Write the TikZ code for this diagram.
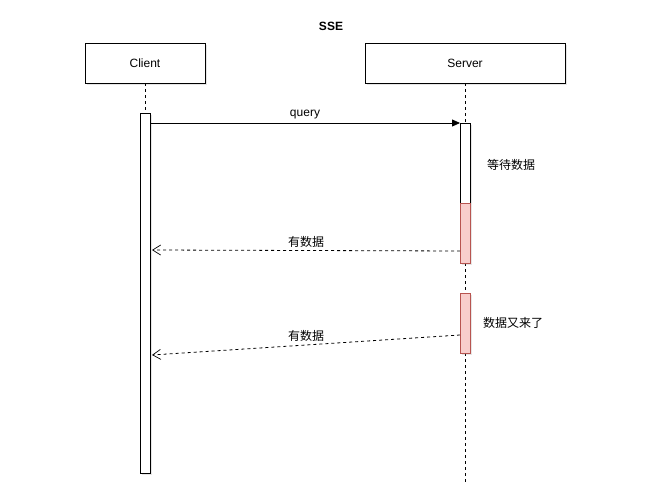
\documentclass[tikz,border=0pt]{standalone}
\usepackage{fontspec}
\setmainfont{Liberation Sans}
\newfontfamily\cjk{Noto Sans CJK SC}
\usetikzlibrary{arrows.meta,shadows}
\definecolor{pinkfill}{HTML}{F8CECC}
\definecolor{pinkline}{HTML}{B85450}
\tikzset{
  actorbox/.style={draw=black, fill=white, line width=0.8pt, minimum height=40pt, inner sep=0pt, drop shadow={shadow xshift=2pt, shadow yshift=-2pt, opacity=0.2}, font=\fontsize{12}{14}\selectfont},
  actbar/.style={draw=black, fill=white, line width=0.8pt, drop shadow={shadow xshift=2pt, shadow yshift=-2pt, opacity=0.2}},
  pinkbar/.style={draw=pinkline, fill=pinkfill, line width=0.8pt, drop shadow={shadow xshift=2pt, shadow yshift=-2pt, opacity=0.2}},
  lifeline/.style={dashed, dash pattern=on 3pt off 3pt, line width=0.8pt},
  msg/.style={line width=0.8pt, -{Triangle[length=8pt,width=7pt]}},
  reply/.style={line width=0.8pt, dash pattern=on 3pt off 3pt, -{Straight Barb[length=8pt,width=10pt,line width=0.7pt]}},
  lbl/.style={font=\cjk\fontsize{12}{14}\selectfont, inner sep=1pt, fill=white},
}
\begin{document}
\begin{tikzpicture}[x=1pt,y=-1pt]
\useasboundingbox (0,0) rectangle (662,500);
\node[font=\bfseries\fontsize{12}{14}\selectfont] (title) at (331,26) {SSE};
\node[actorbox, minimum width=120pt] (client) at (145,63) {Client};
\node[actorbox, minimum width=200pt] (server) at (465,63) {Server};
\coordinate (cend) at (145,113);
\coordinate (send) at (465,483);
\draw[lifeline] (client.south) -- (cend);
\draw[lifeline] (server.south) -- (send);
% activation bars
\node[actbar, minimum width=10pt, minimum height=360pt, inner sep=0pt] (cbar) at (145,293) {};
\node[actbar, minimum width=10pt, minimum height=80pt, inner sep=0pt] (sbar) at (465,163) {};
\node[pinkbar, minimum width=10pt, minimum height=60pt, inner sep=0pt] (p1) at (465,233) {};
\node[pinkbar, minimum width=10pt, minimum height=60pt, inner sep=0pt] (p2) at (465,323) {};
% coordinates for messages
\coordinate (q1) at (150,123);
\coordinate (q2) at (460,123);
\coordinate (r1s) at (460,251);
\coordinate (r1e) at (152,250);
\coordinate (r2s) at (460,335);
\coordinate (r2e) at (152,355);
\draw[msg] (q1) -- (q2);
\node[lbl, font=\fontsize{12}{14}\selectfont] (qlbl) at (305,115) {query};
\draw[reply] (r1s) -- (r1e);
\node[lbl] (l1) at (306,242) {有数据};
\draw[reply] (r2s) -- (r2e);
\node[lbl] (l2) at (306,336) {有数据};
\node[lbl, fill=none] (w) at (511,165) {等待数据};
\node[lbl, fill=none] (w2) at (513,323) {数据又来了};
\end{tikzpicture}
\end{document}
